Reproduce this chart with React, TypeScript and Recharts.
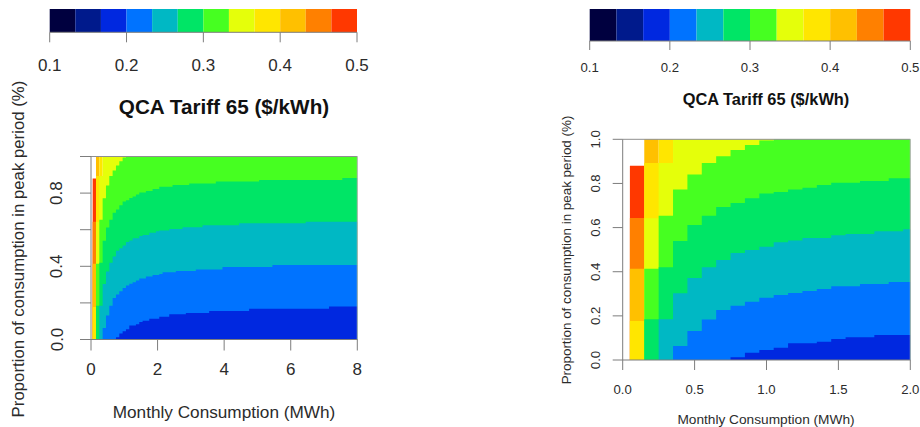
import { Area, ComposedChart, ReferenceLine, XAxis, YAxis } from "recharts";

const FONT = "'Liberation Sans', Arial, sans-serif";
const TEXT = "#2b2b2b";
const AXIS = "#7d7d7d";

// colour key
const KEY_BREAKS = [0.1, 0.1333, 0.1667, 0.2, 0.2333, 0.2667, 0.3, 0.3333, 0.3667, 0.4, 0.4333, 0.4667, 0.5];
const KEY_COLORS = ["#00003f", "#001a8c", "#0028e0", "#0073ff", "#00b8c4", "#00e566", "#46ff21", "#e5ff0a", "#ffe600", "#ffc000", "#ff8000", "#ff3800"];
const KEY_TICKS = [0.1, 0.2, 0.3, 0.4, 0.5];

// left edge of each grid column, the values are where each tariff band tops out
const COLUMNS = [
  0.05, 0.15, 0.25, 0.35, 0.45, 0.55, 0.65, 0.75, 0.85, 0.95, 1.05, 1.15, 1.25, 1.35, 1.45, 1.55, 1.65, 1.75, 1.85, 1.95,
  2.05, 2.15, 2.35, 2.45, 2.55, 2.75, 2.85, 2.95, 3.15, 3.35, 3.55, 3.75, 3.95, 4.45, 4.75, 5.05, 5.45, 6.45, 7.15, 7.55, 8,
];
const BLUE_TOP = [
  0, 0, 0, 0, 0, 0, 0, 0.012, 0.033, 0.045, 0.056, 0.076, 0.076, 0.083, 0.095, 0.103, 0.103, 0.113, 0.113, 0.113,
  0.125, 0.125, 0.138, 0.138, 0.138, 0.138, 0.145, 0.145, 0.145, 0.145, 0.156, 0.156, 0.156, 0.156, 0.168, 0.168, 0.168, 0.168, 0.181, 0.181, 0.181,
];
const SKY_TOP = [
  0, 0, 0, 0.063, 0.131, 0.184, 0.227, 0.246, 0.264, 0.282, 0.295, 0.304, 0.313, 0.322, 0.334, 0.334, 0.344, 0.344, 0.353, 0.353,
  0.358, 0.367, 0.367, 0.367, 0.374, 0.374, 0.374, 0.374, 0.383, 0.383, 0.383, 0.383, 0.396, 0.396, 0.396, 0.396, 0.407, 0.407, 0.407, 0.407, 0.407,
];
const TEAL_TOP = [
  0, 0, 0.185, 0.303, 0.372, 0.42, 0.453, 0.485, 0.498, 0.513, 0.533, 0.541, 0.553, 0.553, 0.565, 0.571, 0.571, 0.583, 0.583, 0.592,
  0.595, 0.595, 0.604, 0.604, 0.604, 0.613, 0.613, 0.613, 0.613, 0.624, 0.624, 0.624, 0.624, 0.635, 0.635, 0.635, 0.635, 0.644, 0.644, 0.644, 0.644,
];
const GREEN_TOP = [
  0, 0.185, 0.42, 0.539, 0.612, 0.654, 0.693, 0.711, 0.733, 0.754, 0.761, 0.773, 0.781, 0.793, 0.803, 0.803, 0.811, 0.811, 0.823, 0.823,
  0.835, 0.835, 0.835, 0.844, 0.844, 0.844, 0.844, 0.853, 0.853, 0.853, 0.853, 0.864, 0.864, 0.864, 0.864, 0.872, 0.872, 0.872, 0.872, 0.883, 0.883,
];
const LIME_TOP = [
  0, 0.414, 0.654, 0.772, 0.841, 0.893, 0.923, 0.951, 0.974, 0.995, 1, 1, 1, 1, 1, 1, 1, 1, 1, 1,
  1, 1, 1, 1, 1, 1, 1, 1, 1, 1, 1, 1, 1, 1, 1, 1, 1, 1, 1, 1, 1,
];
// the dearer bands only show up in the first few columns
const CITRUS_TOP = [0, 0.642, 0.893, 1, 1, 1, 1, 1, 1, 1];
const YELLOW_TOP = [0.177, 0.893, 1];
const AMBER_TOP = [0.414, 1];
const ORANGE_TOP = [0.643];
const RED_TOP = [0.88];

const BANDS = [
  { key: "red", color: "#ff3800", tops: RED_TOP },
  { key: "orange", color: "#ff8000", tops: ORANGE_TOP },
  { key: "amber", color: "#ffc000", tops: AMBER_TOP },
  { key: "yellow", color: "#ffe600", tops: YELLOW_TOP },
  { key: "citrus", color: "#e5ff0a", tops: CITRUS_TOP },
  { key: "lime", color: "#46ff21", tops: LIME_TOP },
  { key: "green", color: "#00e566", tops: GREEN_TOP },
  { key: "teal", color: "#00b8c4", tops: TEAL_TOP },
  { key: "sky", color: "#0073ff", tops: SKY_TOP },
  { key: "blue", color: "#0028e0", tops: BLUE_TOP },
];

function rowAt(i: number, x: number) {
  const row: Record<string, number> = { x };
  BANDS.forEach((b) => {
    row[b.key] = b.tops[i] ?? 0;
  });
  return row;
}

const FULL_ROWS = COLUMNS.map((x, i) => rowAt(i, x));
// right panel stops at 2 MWh, last column gets cut there
const ZOOM_ROWS = [...COLUMNS.filter((x) => x < 2).map((x, i) => rowAt(i, x)), rowAt(19, 2)];

// one step per key colour: full height from its own break to the next one
const KEY_ROWS = KEY_BREAKS.map((x, i) => {
  const row: Record<string, number> = { x };
  KEY_COLORS.forEach((_, j) => {
    row[`c${j}`] = i === j ? 1 : 0;
  });
  return row;
});

const LEFT_X_TICKS = [0, 2, 4, 6, 8];
const RIGHT_X_TICKS = [0, 0.5, 1, 1.5, 2];
const Y_TICKS = [0, 0.2, 0.4, 0.6, 0.8, 1];
const LEFT_Y_LABELS = [0, 0.4, 0.8];

const TITLE = "QCA Tariff 65 ($/kWh)";
const X_TITLE = "Monthly Consumption (MWh)";
const Y_TITLE = "Proportion of consumption in peak period (%)";

function Caption({ x, y, size, bold, vertical, children }: any) {
  return (
    <div
      style={{
        position: "absolute",
        left: x,
        top: y,
        transform: `translate(-50%, -50%)${vertical ? " rotate(-90deg)" : ""}`,
        fontFamily: FONT,
        fontSize: size,
        fontWeight: bold ? 700 : 400,
        color: bold ? "#111" : TEXT,
        whiteSpace: "nowrap",
      }}
    >
      {children}
    </div>
  );
}

function ColorKey({ left, barLeft, right, barBottom, tickLen, labelGap, fontSize }: any) {
  const width = 380;
  const height = 90;
  return (
    <div style={{ position: "absolute", left, top: 0 }}>
      <ComposedChart width={width} height={height} data={KEY_ROWS} margin={{ top: 9, right, bottom: 0, left: barLeft }}>
        <XAxis
          dataKey="x"
          type="number"
          domain={[0.1, 0.5]}
          ticks={KEY_TICKS}
          interval={0}
          height={height - barBottom}
          tickSize={tickLen}
          stroke={AXIS}
          tickLine={{ stroke: AXIS }}
          tick={({ x, y, payload }: any) => (
            <text x={x} y={y + labelGap} textAnchor="middle" dominantBaseline="central" fontFamily={FONT} fontSize={fontSize} fill={TEXT}>
              {payload.value.toFixed(1)}
            </text>
          )}
        />
        <YAxis hide width={0} domain={[0, 1]} />
        {KEY_COLORS.map((color, j) => (
          <Area
            key={color}
            dataKey={`c${j}`}
            type="stepAfter"
            fill={color}
            fillOpacity={1}
            stroke="none"
            dot={false}
            activeDot={false}
            isAnimationActive={false}
          />
        ))}
      </ComposedChart>
    </div>
  );
}

function HeatPanel({ left, yWidth, right, plotTop, plotBottom, rows, xMax, xTicks, xDigits, yLabels, tickLen, xGap, yGap, fontSize }: any) {
  const width = 380;
  const height = 427;
  return (
    <div style={{ position: "absolute", left, top: 0 }}>
      <ComposedChart width={width} height={height} data={rows} margin={{ top: plotTop, right, bottom: 0, left: 0 }}>
        <XAxis
          dataKey="x"
          type="number"
          domain={[0, xMax]}
          ticks={xTicks}
          interval={0}
          height={height - plotBottom}
          tickSize={tickLen}
          stroke={AXIS}
          tickLine={{ stroke: AXIS }}
          tick={({ x, y, payload }: any) => (
            <text x={x} y={y + xGap} textAnchor="middle" dominantBaseline="central" fontFamily={FONT} fontSize={fontSize} fill={TEXT}>
              {payload.value.toFixed(xDigits)}
            </text>
          )}
        />
        <YAxis
          type="number"
          domain={[0, 1]}
          ticks={Y_TICKS}
          interval={0}
          width={yWidth}
          tickSize={tickLen}
          stroke={AXIS}
          tickLine={{ stroke: AXIS }}
          tick={({ x, y, payload }: any) =>
            yLabels.includes(payload.value) ? (
              <text
                x={x - yGap}
                y={y}
                textAnchor="middle"
                dominantBaseline="central"
                fontFamily={FONT}
                fontSize={fontSize}
                fill={TEXT}
                transform={`rotate(-90 ${x - yGap} ${y})`}
              >
                {payload.value.toFixed(1)}
              </text>
            ) : (
              <g />
            )
          }
        />
        {BANDS.map((b) => (
          <Area
            key={b.key}
            dataKey={b.key}
            type="stepAfter"
            fill={b.color}
            fillOpacity={1}
            stroke="none"
            dot={false}
            activeDot={false}
            isAnimationActive={false}
          />
        ))}
        <ReferenceLine y={1} stroke="#8f8f8f" />
        <ReferenceLine x={xMax} stroke="#b0b0b0" />
      </ComposedChart>
    </div>
  );
}

export default function App() {
  return (
    <div style={{ position: "absolute", left: 0, top: 0, width: 920, height: 427, background: "#fff", overflow: "hidden" }}>
      <ColorKey left={0} barLeft={49.7} right={23} barBottom={32.3} tickLen={10} labelGap={21} fontSize={17} />
      <ColorKey left={540} barLeft={49.7} right={9.7} barBottom={41} tickLen={9} labelGap={15} fontSize={13.2} />

      <Caption x={224} y={107} size={20.7} bold>{TITLE}</Caption>
      <Caption x={766} y={99} size={16.4} bold>{TITLE}</Caption>

      <HeatPanel
        left={0}
        yWidth={91}
        right={22.7}
        plotTop={156.5}
        plotBottom={339.5}
        rows={FULL_ROWS}
        xMax={8}
        xTicks={LEFT_X_TICKS}
        xDigits={0}
        yLabels={LEFT_Y_LABELS}
        tickLen={11}
        xGap={17}
        yGap={21}
        fontSize={17}
      />
      <HeatPanel
        left={540}
        yWidth={82.7}
        right={9.7}
        plotTop={139.3}
        plotBottom={360}
        rows={ZOOM_ROWS}
        xMax={2}
        xTicks={RIGHT_X_TICKS}
        xDigits={1}
        yLabels={Y_TICKS}
        tickLen={10}
        xGap={17}
        yGap={15}
        fontSize={13.2}
      />

      <Caption x={224} y={412} size={17.2}>{X_TITLE}</Caption>
      <Caption x={766} y={419} size={13.7}>{X_TITLE}</Caption>
      <Caption x={19} y={249} size={16.8} vertical>{Y_TITLE}</Caption>
      <Caption x={566} y={250} size={13.4} vertical>{Y_TITLE}</Caption>
    </div>
  );
}
